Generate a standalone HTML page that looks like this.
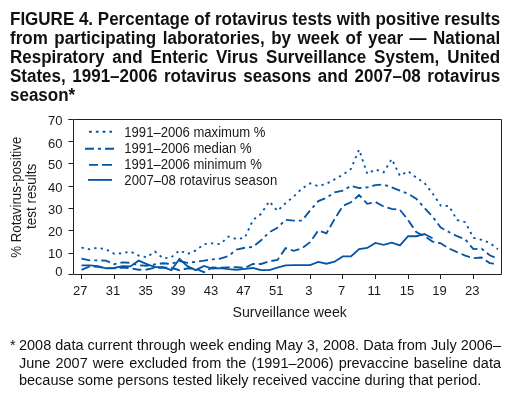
<!DOCTYPE html>
<html><head><meta charset="utf-8"><style>
html,body{margin:0;padding:0;background:#fff;width:522px;height:400px;overflow:hidden;position:relative}
.wrap{position:absolute;left:0;top:0;width:522px;height:400px;will-change:transform}
.tl{position:absolute;left:10.4px;font:bold 18.0px/19px "Liberation Sans",sans-serif;color:#111;white-space:nowrap;transform:scaleX(0.94444);transform-origin:0 0}
.fl{position:absolute;left:19px;font:15.4px/17px "Liberation Sans",sans-serif;color:#111;white-space:nowrap;transform:scaleX(0.94156);transform-origin:0 0}
.fs{position:absolute;left:10px;margin-top:-0.8px;font:15.4px/17px "Liberation Sans",sans-serif;color:#111;transform:scaleX(0.94156);transform-origin:0 0}
</style></head><body><div class="wrap">
<div class="tl" style="top:9.56px;word-spacing:-0.028px">FIGURE 4. Percentage of rotavirus tests with positive results</div><div class="tl" style="top:28.66px;word-spacing:1.851px">from participating laboratories, by week of year — National</div><div class="tl" style="top:47.76px;word-spacing:3.345px">Respiratory and Enteric Virus Surveillance System, United</div><div class="tl" style="top:66.86px;word-spacing:1.936px">States, 1991–2006 rotavirus seasons and 2007–08 rotavirus</div><div class="tl" style="top:85.96px">season*</div>
<svg width="522" height="400" viewBox="0 0 522 400" style="position:absolute;left:0;top:0">
<g stroke="#231f20" stroke-width="1" fill="none">
<polyline points="501.5,274.5 501.5,119.5 73.5,119.5 73.5,274.5 501.5,274.5"/>
<line x1="68.5" y1="119.5" x2="73" y2="119.5"/>
<line x1="81.5" y1="274" x2="81.5" y2="279"/><line x1="114.5" y1="274" x2="114.5" y2="279"/><line x1="146.5" y1="274" x2="146.5" y2="279"/><line x1="179.5" y1="274" x2="179.5" y2="279"/><line x1="212.5" y1="274" x2="212.5" y2="279"/><line x1="244.5" y1="274" x2="244.5" y2="279"/><line x1="277.5" y1="274" x2="277.5" y2="279"/><line x1="310.5" y1="274" x2="310.5" y2="279"/><line x1="342.5" y1="274" x2="342.5" y2="279"/><line x1="375.5" y1="274" x2="375.5" y2="279"/><line x1="408.5" y1="274" x2="408.5" y2="279"/><line x1="440.5" y1="274" x2="440.5" y2="279"/><line x1="473.5" y1="274" x2="473.5" y2="279"/><line x1="68.5" y1="119.5" x2="73" y2="119.5"/><line x1="68.5" y1="141.5" x2="73" y2="141.5"/><line x1="68.5" y1="163.5" x2="73" y2="163.5"/><line x1="68.5" y1="186.5" x2="73" y2="186.5"/><line x1="68.5" y1="208.5" x2="73" y2="208.5"/><line x1="68.5" y1="230.5" x2="73" y2="230.5"/><line x1="68.5" y1="253.5" x2="73" y2="253.5"/><line x1="68.5" y1="274.5" x2="73" y2="274.5"/>
</g>
<g fill="none" stroke="#0656a6" stroke-width="1.85" stroke-linejoin="miter" stroke-linecap="butt">
<polyline points="81.50,247.54 89.66,249.31 97.83,247.76 105.99,249.31 114.16,253.75 122.32,253.31 130.49,251.53 138.65,255.53 146.82,257.31 154.98,251.53 163.15,258.42 171.31,257.31 179.47,250.42 187.64,253.98 195.80,250.42 203.97,244.21 212.13,243.32 220.30,244.21 228.46,236.44 236.63,239.10 244.79,237.77 252.96,220.01 261.12,213.79 269.29,201.36 277.45,210.91 285.61,203.14 293.78,196.48 301.94,188.49 310.11,183.38 318.27,186.04 326.44,183.82 334.60,179.38 342.77,174.72 350.93,168.95 359.10,149.64 367.26,173.83 375.42,169.39 383.59,172.28 391.75,158.96 399.92,175.83 408.08,171.17 416.25,177.61 424.41,182.94 432.58,193.37 440.74,205.58 448.91,206.02 457.07,220.01 465.24,222.23 473.40,237.77 481.56,239.77 489.73,242.88 497.89,249.31" stroke-dasharray="2.3 4.2"/>
<polyline points="81.50,258.64 89.66,260.41 97.83,260.41 105.99,260.64 114.16,264.19 122.32,262.41 130.49,262.86 138.65,265.30 146.82,265.74 154.98,264.41 163.15,263.30 171.31,263.97 179.47,261.08 187.64,262.86 195.80,261.75 203.97,260.64 212.13,259.30 220.30,258.64 228.46,255.97 236.63,249.54 244.79,247.76 252.96,246.87 261.12,240.21 269.29,232.22 277.45,227.78 285.61,219.79 293.78,220.68 301.94,220.68 310.11,210.46 318.27,201.14 326.44,197.81 334.60,192.26 342.77,190.71 350.93,185.82 359.10,188.04 367.26,187.38 375.42,185.16 383.59,184.49 391.75,187.38 399.92,190.71 408.08,193.81 416.25,198.70 424.41,207.80 432.58,216.68 440.74,227.56 448.91,232.00 457.07,236.22 465.24,239.32 473.40,249.09 481.56,248.65 489.73,255.31 497.89,258.86" stroke-dasharray="9 4 3 4"/>
<polyline points="81.50,269.96 89.66,266.41 97.83,266.85 105.99,268.18 114.16,268.41 122.32,267.52 130.49,268.18 138.65,269.74 146.82,269.52 154.98,267.74 163.15,267.74 171.31,267.74 179.47,270.18 187.64,268.41 195.80,268.85 203.97,272.18 212.13,267.52 220.30,267.74 228.46,267.30 236.63,267.07 244.79,267.96 252.96,263.97 261.12,263.97 269.29,261.30 277.45,259.97 285.61,248.20 293.78,250.87 301.94,248.20 310.11,242.21 318.27,230.44 326.44,233.33 334.60,219.12 342.77,206.02 350.93,202.25 359.10,195.15 367.26,203.80 375.42,202.03 383.59,206.47 391.75,208.91 399.92,209.80 408.08,220.01 416.25,232.00 424.41,236.22 432.58,241.54 440.74,243.32 448.91,248.43 457.07,252.20 465.24,255.53 473.40,258.19 481.56,257.53 489.73,263.08 497.89,264.19" stroke-dasharray="9 4"/>
<polyline points="81.50,265.30 89.66,265.30 97.83,266.19 105.99,268.41 114.16,267.96 122.32,266.19 130.49,266.41 138.65,260.64 146.82,264.19 154.98,267.07 163.15,267.07 171.31,270.18 179.47,258.86 187.64,266.41 195.80,270.18 203.97,265.96 212.13,268.63 220.30,268.18 228.46,269.07 236.63,269.74 244.79,268.85 252.96,267.96 261.12,270.18 269.29,270.18 277.45,267.52 285.61,265.30 293.78,265.08 301.94,265.08 310.11,265.08 318.27,261.97 326.44,263.74 334.60,261.75 342.77,256.42 350.93,256.42 359.10,249.09 367.26,247.98 375.42,242.88 383.59,244.87 391.75,242.65 399.92,245.32 408.08,236.22 416.25,236.22 424.41,234.00 432.58,238.21"/>
<line x1="89" y1="131.75" x2="112" y2="131.75" stroke-dasharray="2.8 4"/>
<line x1="85" y1="148.7" x2="114" y2="148.7" stroke-dasharray="9 4 3 4"/>
<line x1="89" y1="164.9" x2="112" y2="164.9" stroke-dasharray="9 4 10 4"/>
<line x1="88" y1="179.9" x2="112" y2="179.9"/>
</g>
<g font-family="Liberation Sans" fill="#1a1a1a">
<text transform="translate(80.30,294.90) scale(1.0000,1)" font-size="13.000" text-anchor="middle">27</text><text transform="translate(112.96,294.90) scale(1.0000,1)" font-size="13.000" text-anchor="middle">31</text><text transform="translate(145.62,294.90) scale(1.0000,1)" font-size="13.000" text-anchor="middle">35</text><text transform="translate(178.28,294.90) scale(1.0000,1)" font-size="13.000" text-anchor="middle">39</text><text transform="translate(210.93,294.90) scale(1.0000,1)" font-size="13.000" text-anchor="middle">43</text><text transform="translate(243.59,294.90) scale(1.0000,1)" font-size="13.000" text-anchor="middle">47</text><text transform="translate(276.25,294.90) scale(1.0000,1)" font-size="13.000" text-anchor="middle">51</text><text transform="translate(308.91,294.90) scale(1.0000,1)" font-size="13.000" text-anchor="middle">3</text><text transform="translate(341.57,294.90) scale(1.0000,1)" font-size="13.000" text-anchor="middle">7</text><text transform="translate(374.22,294.90) scale(1.0000,1)" font-size="13.000" text-anchor="middle">11</text><text transform="translate(406.88,294.90) scale(1.0000,1)" font-size="13.000" text-anchor="middle">15</text><text transform="translate(439.54,294.90) scale(1.0000,1)" font-size="13.000" text-anchor="middle">19</text><text transform="translate(472.20,294.90) scale(1.0000,1)" font-size="13.000" text-anchor="middle">23</text><text transform="translate(62.50,124.80) scale(1.0000,1)" font-size="13.000" text-anchor="end">70</text><text transform="translate(62.50,147.90) scale(1.0000,1)" font-size="13.000" text-anchor="end">60</text><text transform="translate(62.50,169.10) scale(1.0000,1)" font-size="13.000" text-anchor="end">50</text><text transform="translate(62.50,191.50) scale(1.0000,1)" font-size="13.000" text-anchor="end">40</text><text transform="translate(62.50,214.00) scale(1.0000,1)" font-size="13.000" text-anchor="end">30</text><text transform="translate(62.50,236.20) scale(1.0000,1)" font-size="13.000" text-anchor="end">20</text><text transform="translate(62.50,258.20) scale(1.0000,1)" font-size="13.000" text-anchor="end">10</text><text transform="translate(62.50,276.10) scale(1.0000,1)" font-size="13.000" text-anchor="end">0</text><text transform="translate(124.30,137.40) scale(0.9434,1)" font-size="13.886" text-anchor="start">1991–2006 maximum %</text><text transform="translate(124.30,153.30) scale(0.9434,1)" font-size="13.886" text-anchor="start">1991–2006 median %</text><text transform="translate(124.30,169.30) scale(0.9434,1)" font-size="13.886" text-anchor="start">1991–2006 minimum %</text><text transform="translate(124.30,185.10) scale(0.9434,1)" font-size="13.886" text-anchor="start" letter-spacing="0.11">2007–08 rotavirus season</text><text transform="translate(289.70,317.40) scale(0.9434,1)" font-size="15.052" text-anchor="middle">Surveillance week</text><text transform="translate(21.30,197.20) rotate(-90) scale(0.9434,1)" font-size="14.098" text-anchor="middle">% Rotavirus-positive</text><text transform="translate(36.00,196.30) rotate(-90) scale(0.9434,1)" font-size="14.310" text-anchor="middle">test results</text>
</g>
</svg>
<div class="fl" style="top:336.46px;word-spacing:0.023px">2008 data current through week ending May 3, 2008. Data from July 2006–</div><div class="fl" style="top:354.16px;word-spacing:1.074px">June 2007 were excluded from the (1991–2006) prevaccine baseline data</div><div class="fl" style="top:371.46px">because some persons tested likely received vaccine during that period.</div><div class="fs" style="top:336.46px">*</div>
</div></body></html>
